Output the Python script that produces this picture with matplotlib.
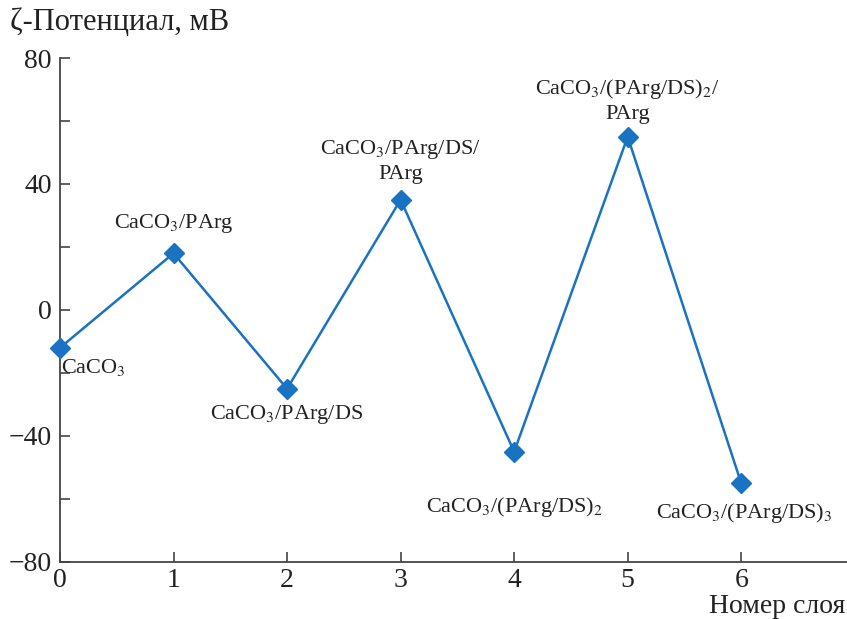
import matplotlib.pyplot as plt
from matplotlib.ticker import MultipleLocator

plt.rcParams['font.family'] = ['Liberation Serif', 'DejaVu Serif']
plt.rcParams['mathtext.fontset'] = 'stix'

layers = [0, 1, 2, 3, 4, 5, 6]
zeta = [-12, 18, -25, 35, -45, 55, -55]
labels = [r'CaCO$_3$', r'CaCO$_3$/PArg', r'CaCO$_3$/PArg/DS',
          'CaCO$_3$/PArg/DS/\nPArg', r'CaCO$_3$/(PArg/DS)$_2$',
          'CaCO$_3$/(PArg/DS)$_2$/\nPArg', r'CaCO$_3$/(PArg/DS)$_3$']
# label placement: (dx, dy) in points, ha, va
placement = [((1, -14), 'left', 'center'),
             ((0, 13), 'center', 'bottom'),
             ((0, -10), 'center', 'top'),
             ((0, 11), 'center', 'bottom'),
             ((0, -31), 'center', 'top'),
             ((0, 9), 'center', 'bottom'),
             ((2, -13), 'center', 'top')]

fig = plt.figure(figsize=(8.47, 6.19), dpi=100)
ax = fig.add_axes([0.0708, 0.0921, 0.929, 0.8142])
col = '#1a73c2'
ax.plot(layers, zeta, color=col, lw=1.8, marker='D', ms=10.5, clip_on=False, zorder=3)

for x, y, lab, (off, ha, va) in zip(layers, zeta, labels, placement):
    ax.annotate(lab, (x, y), xytext=off, textcoords='offset points',
                ha=ha, va=va, fontsize=16, color='#222222', linespacing=1.3)

ax.set_xlim(0, 6.93)
ax.set_ylim(-80, 80)
ax.set_xticks(layers)
ax.yaxis.set_major_locator(MultipleLocator(40))
ax.yaxis.set_minor_locator(MultipleLocator(20))
for s in ['top', 'right']:
    ax.spines[s].set_visible(False)
for s in ['left', 'bottom']:
    ax.spines[s].set_color('#444444')
    ax.spines[s].set_linewidth(1.3)
ax.tick_params(which='both', direction='in', length=7, width=1.2, color='#444444',
               labelsize=20, labelcolor='#222222')
ax.tick_params(axis='y', pad=6)
ax.tick_params(axis='x', pad=4)

fig.text(0.012, 0.963, 'ζ-Потенциал, мВ', fontsize=22, color='#222222', ha='left', va='center')
fig.text(0.998, 0.021, 'Номер слоя', fontsize=20, color='#222222', ha='right', va='center')

fig.savefig('out.png', dpi=100)
